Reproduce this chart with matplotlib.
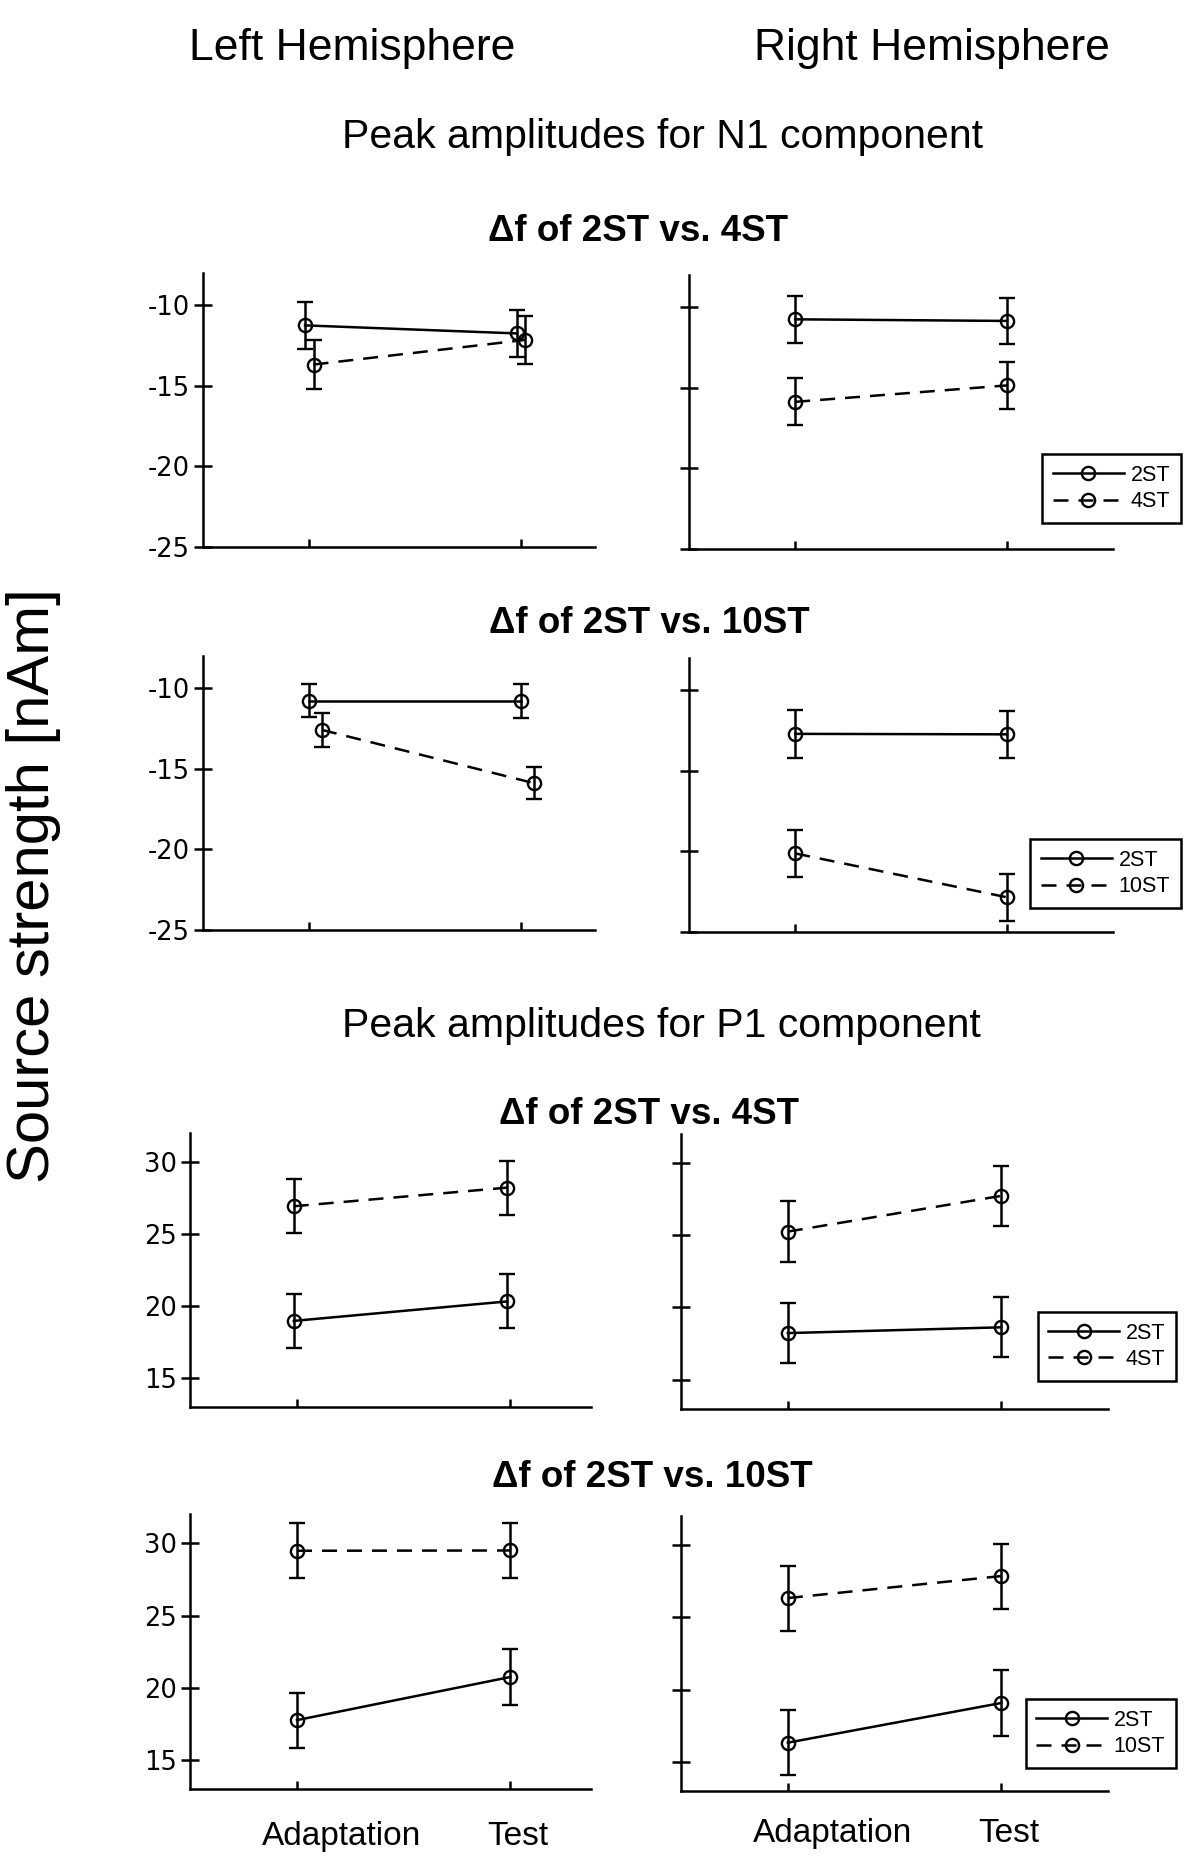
import matplotlib
matplotlib.use("Agg")
import matplotlib.pyplot as plt
from matplotlib.transforms import blended_transform_factory

plt.rcParams['font.family'] = ['Liberation Sans', 'DejaVu Sans']
plt.rcParams['axes.unicode_minus'] = False

# ---------------- data ----------------
conditions = ["Adaptation", "Test"]
series_names_4 = ["2ST", "4ST"]
series_names_10 = ["2ST", "10ST"]

n1_ticks = [-25, -20, -15, -10]
p1_ticks = [15, 20, 25, 30]
n1_limits = [-25, -8]
p1_limits = [13, 32]

# N1, 2ST vs 4ST
n1_4_left_2st = [-11.25, -11.75]
n1_4_left_2st_err = [1.48, 1.48]
n1_4_left_4st = [-13.68, -12.15]
n1_4_left_4st_err = [1.5, 1.5]
n1_4_right_2st = [-10.75, -10.85]
n1_4_right_2st_err = [1.45, 1.45]
n1_4_right_4st = [-15.87, -14.85]
n1_4_right_4st_err = [1.45, 1.45]

# N1, 2ST vs 10ST
n1_10_left_2st = [-10.8, -10.8]
n1_10_left_2st_err = [1.02, 1.05]
n1_10_left_10st = [-12.6, -15.9]
n1_10_left_10st_err = [1.07, 1.0]
n1_10_right_2st = [-12.72, -12.75]
n1_10_right_2st_err = [1.47, 1.45]
n1_10_right_10st = [-20.13, -22.85]
n1_10_right_10st_err = [1.47, 1.47]

# P1, 2ST vs 4ST
p1_4_left_2st = [18.95, 20.3]
p1_4_left_2st_err = [1.88, 1.87]
p1_4_left_4st = [26.9, 28.19]
p1_4_left_4st_err = [1.86, 1.88]
p1_4_right_2st = [18.23, 18.63]
p1_4_right_2st_err = [2.07, 2.08]
p1_4_right_4st = [25.25, 27.72]
p1_4_right_4st_err = [2.09, 2.08]

# P1, 2ST vs 10ST
p1_10_left_2st = [17.78, 20.76]
p1_10_left_2st_err = [1.9, 1.91]
p1_10_left_10st = [29.48, 29.5]
p1_10_left_10st_err = [1.9, 1.92]
p1_10_right_2st = [16.34, 19.08]
p1_10_right_2st_err = [2.26, 2.27]
p1_10_right_10st = [26.33, 27.85]
p1_10_right_10st_err = [2.25, 2.25]

# ---------------- layout ----------------
W, H = 1200, 1864
fig = plt.figure(figsize=(W / 100, H / 100), dpi=100)


def px_rect(x0, x1, ytop, ybot):
    return [x0 / W, 1 - ybot / H, (x1 - x0) / W, (ybot - ytop) / H]


LW = 1.8
panels = [
    dict(rect=px_rect(203.3, 595, 273, 547), xr=2.348, ylim=n1_limits, ticks=n1_ticks, lab=True,
         s=[(n1_4_left_2st, n1_4_left_2st_err), (n1_4_left_4st, n1_4_left_4st_err)],
         names=series_names_4, leg=None, off=(-0.02, 0.02)),
    dict(rect=px_rect(689.3, 1112.9, 275, 549), xr=2.5, ylim=n1_limits, ticks=n1_ticks, lab=False,
         s=[(n1_4_right_2st, n1_4_right_2st_err), (n1_4_right_4st, n1_4_right_4st_err)],
         names=series_names_4, leg=(1.16, 0.095), off=(0, 0)),
    dict(rect=px_rect(203.3, 595, 655.7, 930), xr=2.348, ylim=n1_limits, ticks=n1_ticks, lab=True,
         s=[(n1_10_left_2st, n1_10_left_2st_err), (n1_10_left_10st, n1_10_left_10st_err)],
         names=series_names_10, leg=None, off=(0, 0.06)),
    dict(rect=px_rect(689.3, 1112.9, 657.7, 932), xr=2.5, ylim=n1_limits, ticks=n1_ticks, lab=False,
         s=[(n1_10_right_2st, n1_10_right_2st_err), (n1_10_right_10st, n1_10_right_10st_err)],
         names=series_names_10, leg=(1.16, 0.088), off=(0, 0)),
    dict(rect=px_rect(190.3, 591, 1132.7, 1406.7), xr=2.378, ylim=p1_limits, ticks=p1_ticks, lab=True,
         s=[(p1_4_left_2st, p1_4_left_2st_err), (p1_4_left_4st, p1_4_left_4st_err)],
         names=series_names_4, leg=None, off=(-0.015, -0.015)),
    dict(rect=px_rect(681.2, 1107.8, 1134, 1408.7), xr=2.5, ylim=p1_limits, ticks=p1_ticks, lab=False,
         s=[(p1_4_right_2st, p1_4_right_2st_err), (p1_4_right_4st, p1_4_right_4st_err)],
         names=series_names_4, leg=(1.16, 0.102), off=(0, 0)),
    dict(rect=px_rect(190.3, 591, 1514.3, 1789.3), xr=2.378, ylim=p1_limits, ticks=p1_ticks, lab=True,
         s=[(p1_10_left_2st, p1_10_left_2st_err), (p1_10_left_10st, p1_10_left_10st_err)],
         names=series_names_10, leg=None, off=(0, 0), xl=-0.173),
    dict(rect=px_rect(681.2, 1107.8, 1516, 1791), xr=2.5, ylim=p1_limits, ticks=p1_ticks, lab=False,
         s=[(p1_10_right_2st, p1_10_right_2st_err), (p1_10_right_10st, p1_10_right_10st_err)],
         names=series_names_10, leg=(1.16, 0.084), off=(0, 0), xl=-0.153),
]

styles = ['-', (0, (6, 4))]
xbase = list(range(1, len(conditions) + 1))

for p in panels:
    ax = fig.add_axes(p['rect'])
    handles = []
    for (vals, errs), ls, off, name in zip(p['s'], styles, p['off'], p['names']):
        xs = [x + off for x in xbase]
        h = ax.errorbar(xs, vals, yerr=errs, color='black', linestyle=ls, linewidth=LW,
                        marker='o', markersize=9.5, markerfacecolor='none',
                        markeredgecolor='black', markeredgewidth=1.7,
                        capsize=6, capthick=LW, elinewidth=LW, label=name)
        handles.append(h[0])
    ax.set_xlim(0.5, p['xr'])
    ax.set_ylim(*p['ylim'])
    ax.set_xticks(xbase)
    ax.set_xticklabels([])
    ax.set_yticks(p['ticks'])
    if p['lab']:
        ax.set_yticklabels([str(t) for t in p['ticks']], family='DejaVu Sans')
    else:
        ax.set_yticklabels([])
    ax.tick_params(axis='y', direction='inout', length=13.5, width=LW, pad=3, labelsize=18.5)
    ax.tick_params(axis='x', direction='in', length=6, width=LW)
    for sp in ['top', 'right']:
        ax.spines[sp].set_visible(False)
    for sp in ['left', 'bottom']:
        ax.spines[sp].set_linewidth(LW)
    ax.patch.set_alpha(0)
    if p['leg'] is not None:
        leg = ax.legend(handles=handles, labels=p['names'], loc='lower right', bbox_to_anchor=p['leg'],
                        borderaxespad=0, fontsize=15.5, handlelength=3.3, handletextpad=0.3,
                        borderpad=0.5, labelspacing=0.25, fancybox=False, framealpha=1,
                        edgecolor='black')
        leg.get_frame().set_linewidth(1.8)
    if 'xl' in p:
        tr = blended_transform_factory(ax.transData, ax.transAxes)
        for x, lab, dx in zip(xbase, conditions, [0.21, 0.035]):
            ax.text(x + dx, p['xl'], lab, transform=tr, ha='center', va='center', fontsize=24)

# ---------------- texts ----------------
fig.text(352 / W, 1 - 60 / H, "Left Hemisphere", ha='center', va='baseline', fontsize=32)
fig.text(932 / W, 1 - 60 / H, "Right Hemisphere", ha='center', va='baseline', fontsize=32)
fig.text(662 / W, 1 - 148 / H, "Peak amplitudes for N1 component", ha='center', va='baseline', fontsize=29.5)
fig.text(661 / W, 1 - 1037 / H, "Peak amplitudes for P1 component", ha='center', va='baseline', fontsize=29.5)
fig.text(638 / W, 1 - 241 / H, "Δf of 2ST vs. 4ST", ha='center', va='baseline', fontsize=26.5, fontweight='bold')
fig.text(649 / W, 1 - 633 / H, "Δf of 2ST vs. 10ST", ha='center', va='baseline', fontsize=26.5, fontweight='bold')
fig.text(649 / W, 1 - 1124 / H, "Δf of 2ST vs. 4ST", ha='center', va='baseline', fontsize=26.5, fontweight='bold')
fig.text(652 / W, 1 - 1487 / H, "Δf of 2ST vs. 10ST", ha='center', va='baseline', fontsize=26.5, fontweight='bold')
fig.text(34 / W, 1 - 886 / H, "Source strength [nAm]", ha='center', va='center', rotation=90, fontsize=43)

fig.savefig("out.png", dpi=100, facecolor='white')
